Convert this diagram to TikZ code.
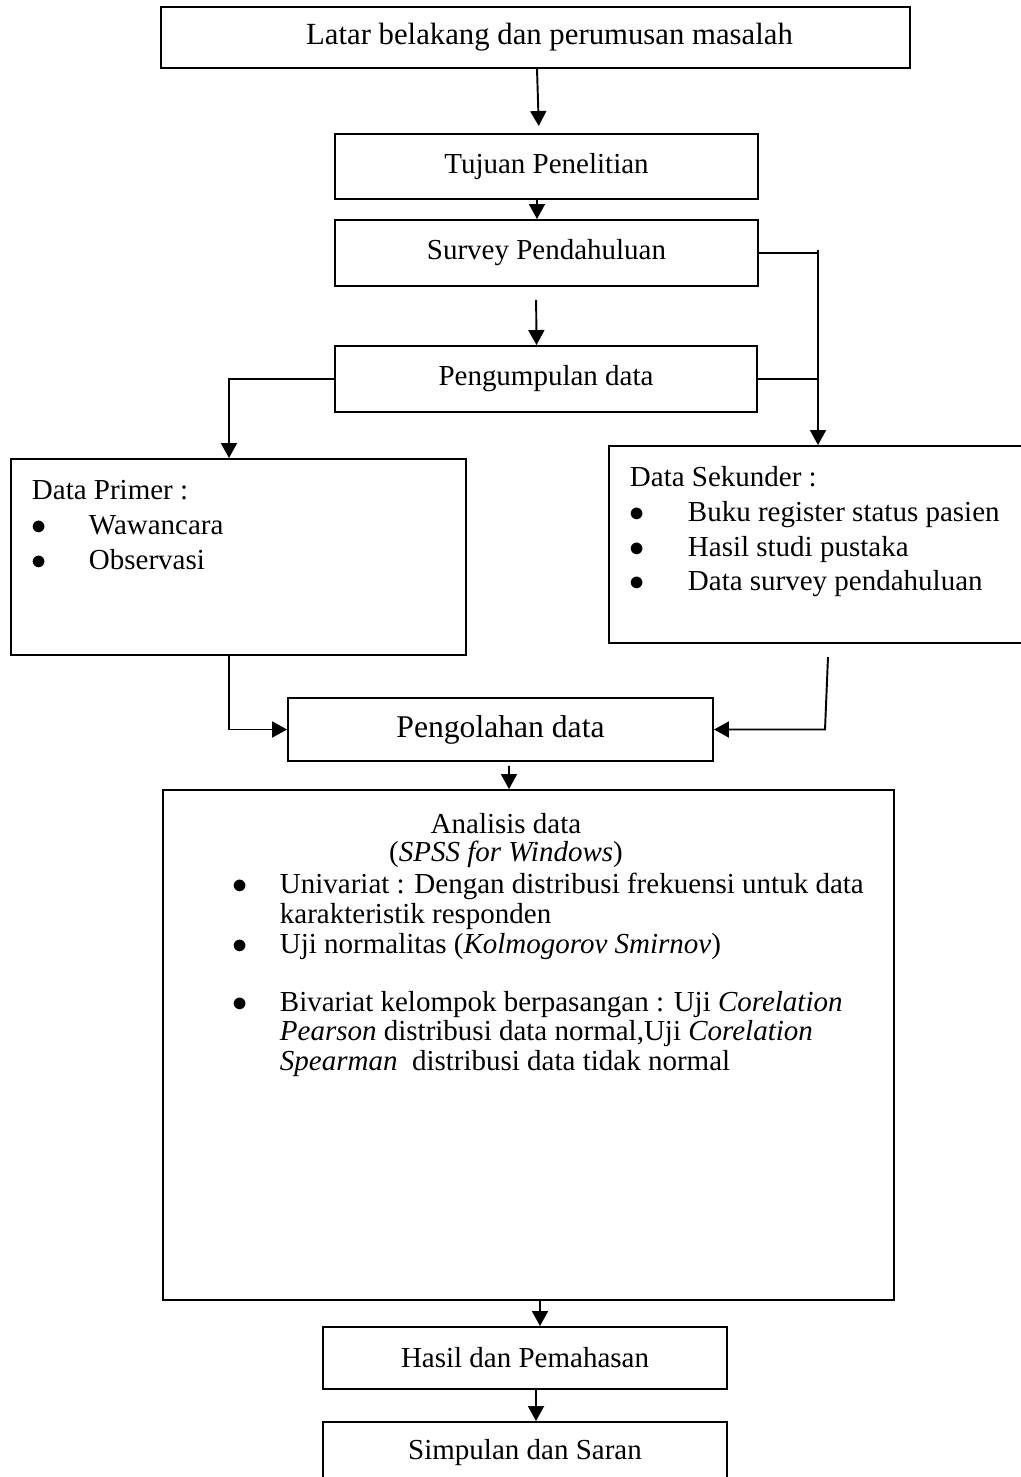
\documentclass[tikz,border=0pt]{standalone}
\usepackage{fontspec}
\setmainfont{Liberation Serif}
\usepackage{tikz}
\usetikzlibrary{arrows.meta,calc}
\tikzset{
block/.style = {draw, fill=white, rectangle, align=center, inner sep=0pt, line width=1.1pt, font=\fontsize{16.5}{20}\selectfont},
list/.style = {inner sep=0pt, align=left, anchor=north west, font=\fontsize{16.5}{19.9}\selectfont},
}
\newcommand{\bul}[1]{\makebox[#1][l]{$\bullet$}}

\begin{document}
\begin{tikzpicture}[auto,>={Triangle[length=0.3cm,width=0.32cm]},line width=1.1pt]
        \useasboundingbox (0,0) rectangle (20.4,-29.54);
        \node [block, minimum width=14.98cm, minimum height=1.22cm, font=\fontsize{17.5}{21}\selectfont] (latar) at (10.71,-0.75) {\hspace*{0.56cm}Latar belakang dan perumusan masalah};
        \node [block, minimum width=8.46cm, minimum height=1.3cm] (tujuan) at (10.93,-3.33) {Tujuan Penelitian};
        \node [block, minimum width=8.46cm, minimum height=1.32cm] (survey) at (10.93,-5.06) {Survey Pendahuluan};
        \node [block, minimum width=8.44cm, minimum height=1.32cm] (kumpul) at (10.92,-7.58) {Pengumpulan data};
        %data primer
        \node [block, minimum width=9.1cm, minimum height=3.92cm] (primer) at (4.77,-11.14) {};
        \node [list] (primer-txt) at (0.62,-9.58) {Data Primer :\\ \bul{1.14cm}Wawancara\\ \bul{1.14cm}Observasi};
        %data sekunder
        \node [block, minimum width=8.8cm, minimum height=3.94cm] (sekunder) at (16.58,-10.89) {};
        \node [list] (sekunder-txt) at (12.58,-9.30) {Data Sekunder :\\ \bul{1.16cm}Buku register status pasien\\ \bul{1.16cm}Hasil studi pustaka\\ \bul{1.16cm}Data survey pendahuluan};
        \node [block, minimum width=8.5cm, minimum height=1.26cm, font=\fontsize{18}{22}\selectfont] (olah) at (10.01,-14.59) {Pengolahan data};
        %analisis
        \node [block, minimum width=14.62cm, minimum height=10.2cm] (analisis) at (10.57,-20.9) {};
        \node [list, align=center, anchor=north, font=\fontsize{16.5}{16}\selectfont] (analisis-judul) at (10.12,-16.24) {Analisis data\\(\textit{SPSS for Windows})};
        \node [list, font=\fontsize{16.5}{17}\selectfont] (analisis-txt) at (4.64,-17.44) {\bul{0.94cm}Univariat : Dengan distribusi frekuensi untuk data\\ \hspace*{0.94cm}karakteristik responden\\ \bul{0.94cm}Uji normalitas (\textit{Kolmogorov Smirnov})\\[0.56cm] \bul{0.94cm}Bivariat kelompok berpasangan : Uji \textit{Corelation}\\ \hspace*{0.94cm}\textit{Pearson} distribusi data normal,Uji \textit{Corelation}\\ \hspace*{0.94cm}\textit{Spearman}\ \ distribusi data tidak normal};
        \node [block, minimum width=8.08cm, minimum height=1.24cm] (hasil) at (10.5,-27.16) {Hasil dan Pemahasan};
        \node [block, minimum width=8.08cm, minimum height=1.24cm] (simpulan) at (10.5,-29.06) {Simpulan dan Saran};

        \coordinate (cabang) at (16.36,-5.0);
        \coordinate (sek-bawah) at (16.56,-13.14);
        \coordinate (sek-belok) at (16.5,-14.6);

        \draw [->, shorten >=0.14cm] ([xshift=0.03cm]latar.south) -- ([xshift=-0.15cm]tujuan.north);
        \draw [->] ([xshift=-0.19cm]tujuan.south) -- ([xshift=-0.19cm]survey.north);
        \draw [->, shorten <=0.26cm] ([xshift=-0.21cm]survey.south) -- ([xshift=-0.19cm]kumpul.north);
        \draw [->] (kumpul.west) -| ([xshift=-0.19cm]primer.north);
        %ke data sekunder
        \draw (survey.east) -- (survey.east -| cabang);
        \draw (kumpul.east) -- (kumpul.east -| cabang);
        \draw [->] (cabang) -- (cabang |- sekunder.north);
        %ke pengolahan
        \draw [->] ([xshift=-0.19cm]primer.south) |- (olah.west);
        \draw [->] (sek-bawah) -- (sek-belok |- olah.east) -- (olah.east);
        \draw [->, shorten <=0.08cm] ([xshift=0.17cm]olah.south) -- ([xshift=-0.39cm]analisis.north);
        \draw [->] ([xshift=0.23cm]analisis.south) -- ([xshift=0.3cm]hasil.north);
        \draw [->] ([xshift=0.22cm]hasil.south) -- ([xshift=0.22cm]simpulan.north);
\end{tikzpicture}
\end{document}
